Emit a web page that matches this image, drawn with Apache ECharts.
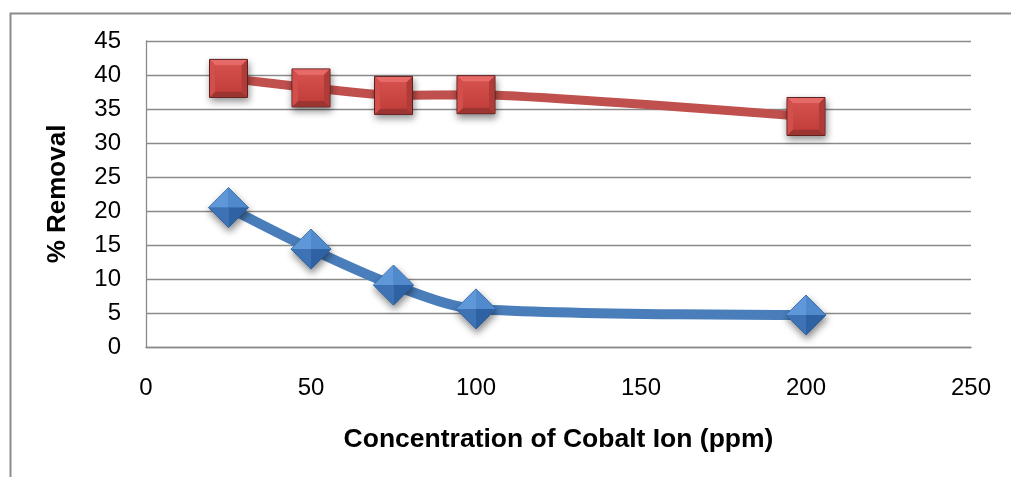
<!DOCTYPE html>
<html>
<head>
<meta charset="utf-8">
<script src="https://cdn.jsdelivr.net/npm/echarts@6/dist/echarts.min.js"></script>
<style>
html,body{margin:0;padding:0;background:#fff;}
#chart{width:1011px;height:477px;}
</style>
</head>
<body>
<div id="chart"></div>
<script>
// Data
const concentrations = [25, 50, 75, 100, 200];
const removalBlue = [20.5, 14.4, 9.1, 5.6, 4.7];
const removalRed = [39.5, 38.1, 37.0, 37.1, 33.9];
const xAxisTitle = 'Concentration of Cobalt Ion (ppm)';
const yAxisTitle = '% Removal';

const bluePts = concentrations.map((x, i) => [x, removalBlue[i]]);
const redPts = concentrations.map((x, i) => [x, removalRed[i]]);

function renderSquare(params, api) {
  const p = api.coord([api.value(0), api.value(1)]);
  const x = p[0], y = p[1], h = 19, b = 6;
  const L = x - h, R = x + h, T = y - h, B = y + h;
  return {
    type: 'group',
    children: [
      {type: 'rect', shape: {x: L, y: T, width: 2 * h, height: 2 * h},
        style: {fill: '#c8403d', stroke: '#5e1f1d', lineWidth: 1,
          shadowBlur: 7, shadowOffsetX: 1, shadowOffsetY: 4, shadowColor: 'rgba(0,0,0,0.45)'}},
      {type: 'polygon', shape: {points: [[L + 0.5, T + 0.5], [R - 0.5, T + 0.5], [R - b, T + b], [L + b, T + b]]}, style: {fill: '#e66a67'}},
      {type: 'polygon', shape: {points: [[L + 0.5, B - 0.5], [R - 0.5, B - 0.5], [R - b, B - b], [L + b, B - b]]}, style: {fill: '#9c3532'}},
      {type: 'polygon', shape: {points: [[L + 0.5, T + 0.5], [L + b, T + b], [L + b, B - b], [L + 0.5, B - 0.5]]}, style: {fill: '#d24f4c'}},
      {type: 'polygon', shape: {points: [[R - 0.5, T + 0.5], [R - b, T + b], [R - b, B - b], [R - 0.5, B - 0.5]]}, style: {fill: '#b03c39'}},
      {type: 'rect', shape: {x: L + b, y: T + b, width: 2 * h - 2 * b, height: 2 * h - 2 * b},
        style: {fill: {type: 'linear', x: 0, y: 0, x2: 0, y2: 1, colorStops: [{offset: 0, color: '#d4504d'}, {offset: 1, color: '#c23f3c'}]}}}
    ]
  };
}

function renderDiamond(params, api) {
  const p = api.coord([api.value(0), api.value(1)]);
  const x = p[0], y = p[1], w = 20, h = 20;
  const Lp = [x - w, y], Tp = [x, y - h], Rp = [x + w, y], Bp = [x, y + h], C = [x, y];
  return {
    type: 'group',
    children: [
      {type: 'polygon', shape: {points: [Lp, Tp, Rp, Bp]},
        style: {fill: '#4a80c4', stroke: '#2b5990', lineWidth: 1,
          shadowBlur: 7, shadowOffsetX: 1, shadowOffsetY: 4, shadowColor: 'rgba(0,0,0,0.45)'}},
      {type: 'polygon', shape: {points: [Lp, Tp, C]}, style: {fill: '#5f98d8'}},
      {type: 'polygon', shape: {points: [Tp, Rp, C]}, style: {fill: '#5089cc'}},
      {type: 'polygon', shape: {points: [Rp, Bp, C]}, style: {fill: '#2f62a2'}},
      {type: 'polygon', shape: {points: [Bp, Lp, C]}, style: {fill: '#3d72b4'}}
    ]
  };
}

const chart = echarts.init(document.getElementById('chart'));
chart.setOption({
  animation: false,
  backgroundColor: '#ffffff',
  graphic: [{
    type: 'rect', left: 8, top: 11, z: 100,
    shape: {x: 0, y: 0, width: 1100, height: 600},
    style: {fill: 'none', stroke: '#8c8c8c', lineWidth: 2}
  }],
  grid: {left: 146, right: 40, top: 41, bottom: 130, containLabel: false},
  xAxis: {
    type: 'value', min: 0, max: 250, interval: 50,
    name: xAxisTitle, nameLocation: 'middle', nameGap: 79,
    nameTextStyle: {fontFamily: 'Liberation Sans', fontWeight: 'bold', fontSize: 26.5, color: '#000'},
    axisLine: {show: true, lineStyle: {color: '#8a8a8a', width: 1.3}},
    axisTick: {show: false},
    splitLine: {show: false},
    axisLabel: {fontFamily: 'Liberation Sans', fontSize: 24, color: '#000', margin: 29}
  },
  yAxis: {
    type: 'value', min: 0, max: 45, interval: 5,
    name: yAxisTitle, nameLocation: 'middle', nameGap: 75, nameRotate: 90,
    nameTextStyle: {fontFamily: 'Liberation Sans', fontWeight: 'bold', fontSize: 26, color: '#000'},
    axisLine: {show: true, lineStyle: {color: '#8a8a8a', width: 1.3}},
    axisTick: {show: false},
    splitLine: {show: true, lineStyle: {color: '#8a8a8a', width: 1.3}},
    axisLabel: {fontFamily: 'Liberation Sans', fontSize: 24, color: '#000', margin: 25}
  },
  series: [
    {type: 'line', data: redPts, smooth: 0.15, symbol: 'none',
      lineStyle: {color: '#c0504d', width: 9}, z: 2},
    {type: 'line', data: bluePts, smooth: 0.3, symbol: 'none',
      lineStyle: {color: '#4a7ebb', width: 10}, z: 2},
    {type: 'custom', data: redPts, encode: {x: 0, y: 1}, renderItem: renderSquare, z: 5},
    {type: 'custom', data: bluePts, encode: {x: 0, y: 1}, renderItem: renderDiamond, z: 5}
  ]
});
</script>
</body>
</html>
